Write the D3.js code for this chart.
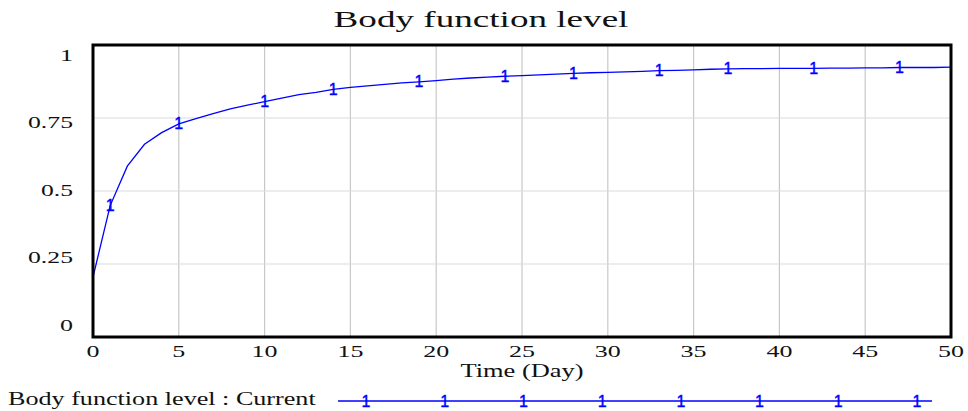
<!DOCTYPE html>
<html>
<head>
<meta charset="utf-8">
<script src="https://cdn.jsdelivr.net/npm/d3@7"></script>
<style>
  body { margin: 0; background: #fff; }
  svg { display: block; }
</style>
</head>
<body>
<svg width="968" height="411"></svg>
<script>
// values (day -> level)
const days = d3.range(0, 51);
const level = [
  0.205, 0.45, 0.585, 0.66, 0.70, 0.73, 0.748, 0.765, 0.781, 0.794,
  0.806, 0.818, 0.830, 0.838, 0.848, 0.855, 0.860, 0.865, 0.870, 0.874,
  0.878, 0.883, 0.887, 0.890, 0.893, 0.895, 0.898, 0.900, 0.903, 0.905,
  0.906, 0.908, 0.910, 0.912, 0.913, 0.915, 0.917, 0.918, 0.919, 0.919,
  0.920, 0.920, 0.920, 0.921, 0.921, 0.922, 0.922, 0.923, 0.923, 0.923,
  0.924
];
const markerDays = [1, 5, 10, 14, 19, 24, 28, 33, 37, 42, 47];
const xTicks = [0, 5, 10, 15, 20, 25, 30, 35, 40, 45, 50];
const yTicks = [0, 0.25, 0.5, 0.75, 1];
const yTickLabels = ["0", "0.25", "0.5", "0.75", "1"];
const legendLabel = "Body function level : Current";
const legendMarks = 8;

const svg = d3.select("svg");
const plotL = 93, plotR = 951, plotT = 45, plotB = 337;

const x = d3.scaleLinear().domain([0, 50]).range([plotL, plotR]);
const y = d3.scaleLinear().domain([0, 1]).range([plotB, plotT]);
// y labels sit a bit off their gridlines in the original
const yLab = d3.scaleLinear().domain([0, 1]).range([325, 54.5]);

const serif = "'Liberation Serif', 'Times New Roman', serif";
const blue = "#0000ff";

// text stretched horizontally to a given width, like the original
function wideText(g, str, cx, cy, size, width, anchor) {
  const t = g.append("text")
    .attr("font-family", serif)
    .attr("font-size", size)
    .attr("fill", "#111")
    .attr("text-anchor", anchor || "middle")
    .text(str);
  const w = t.node().getComputedTextLength();
  const sx = width / w;
  t.attr("transform", `translate(${cx},${cy}) scale(${sx},1)`);
  return t;
}

// marker glyph used on the curve and in the legend
function marker(sel) {
  sel.attr("text-anchor", "middle")
    .attr("font-family", "'Liberation Sans', Arial, sans-serif")
    .attr("font-size", 16)
    .attr("fill", blue)
    .attr("stroke", blue)
    .attr("stroke-width", 0.4)
    .text("1");
}

// grid
svg.append("g")
  .selectAll("line")
  .data(xTicks.slice(1, -1))
  .join("line")
  .attr("x1", d => x(d)).attr("x2", d => x(d))
  .attr("y1", plotT).attr("y2", plotB)
  .attr("stroke", "#c8c8c8").attr("stroke-width", 1.2);

svg.append("g")
  .selectAll("line")
  .data(yTicks.slice(1, -1))
  .join("line")
  .attr("x1", plotL).attr("x2", plotR)
  .attr("y1", d => y(d)).attr("y2", d => y(d))
  .attr("stroke", "#dcdcdc").attr("stroke-width", 1.2);

// curve
const line = d3.line()
  .x((d, i) => x(days[i]))
  .y(d => y(d));

svg.append("path")
  .datum(level)
  .attr("d", line)
  .attr("fill", "none")
  .attr("stroke", blue)
  .attr("stroke-width", 1.3);

// "1" markers on the curve
svg.append("g")
  .selectAll("text")
  .data(markerDays)
  .join("text")
  .attr("x", d => x(d))
  .attr("y", d => y(level[d]) + 5.5)
  .call(marker);

// frame
svg.append("rect")
  .attr("x", plotL).attr("y", plotT)
  .attr("width", plotR - plotL).attr("height", plotB - plotT)
  .attr("fill", "none")
  .attr("stroke", "#000")
  .attr("stroke-width", 3);

// x tick labels
const xg = svg.append("g");
xTicks.forEach(d => {
  wideText(xg, String(d), x(d), 357, 17.5, d < 10 ? 13 : 26);
});

// y tick labels
const yg = svg.append("g");
yTicks.forEach((d, i) => {
  const s = yTickLabels[i];
  const w = s.length === 1 ? 13 : (s.length - 1) * 13 + 6;
  wideText(yg, s, 73, yLab(d) + 6, 17.5, w, "end");
});

// title and axis title
wideText(svg, "Body function level", 481, 27, 23, 295);
wideText(svg, "Time (Day)", (plotL + plotR) / 2, 377, 18, 123);

// legend
wideText(svg, legendLabel, 8, 405, 19.5, 308, "start");

const lx = d3.scaleLinear().domain([0, legendMarks - 1]).range([366, 917]);
svg.append("line")
  .attr("x1", 338).attr("x2", 932)
  .attr("y1", 401).attr("y2", 401)
  .attr("stroke", blue).attr("stroke-width", 1.3);

svg.append("g")
  .selectAll("text")
  .data(d3.range(legendMarks))
  .join("text")
  .attr("x", d => lx(d))
  .attr("y", 406.5)
  .call(marker);
</script>
</body>
</html>
